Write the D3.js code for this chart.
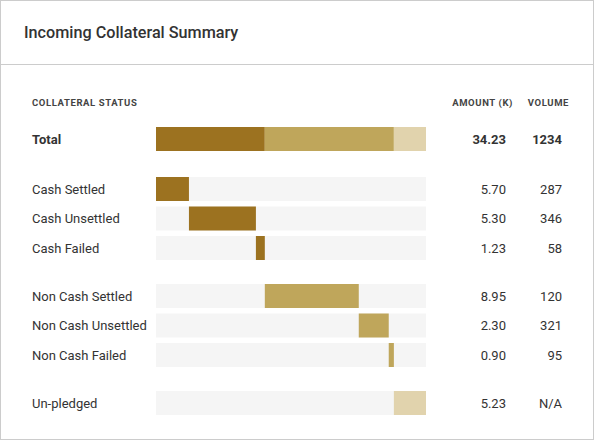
<!DOCTYPE html>
<html><head><meta charset="utf-8">
<script src="https://cdn.jsdelivr.net/npm/d3@7/dist/d3.min.js"></script>
<style>
html,body{margin:0;padding:0;background:#fff;}
svg{display:block;font-family:Roboto,"Noto Sans",sans-serif;}
</style></head>
<body>
<svg id="chart" width="594" height="440"></svg>
<script>
// ---- data ----
const title = "Incoming Collateral Summary";
const columnHeaders = ["COLLATERAL STATUS", "AMOUNT (K)", "VOLUME"];
const categories = ["Cash Settled", "Cash Unsettled", "Cash Failed",
                    "Non Cash Settled", "Non Cash Unsettled", "Non Cash Failed", "Un-pledged"];
const groups = ["cash", "cash", "cash", "noncash", "noncash", "noncash", "unpledged"];
const barShare = [12.2, 24.8, 3.3, 34.8, 11.1, 1.9, 11.9];   // bar widths (% of total)
const amounts = ["5.70", "5.30", "1.23", "8.95", "2.30", "0.90", "5.23"];
const volumes = ["287", "346", "58", "120", "321", "95", "N/A"];
const totalLabel = "Total";
const totalAmount = "34.23";
const totalVolume = "1234";
const groupNames = ["cash", "noncash", "unpledged"];
const groupColors = ["#9c7220", "#bfa65b", "#e1d3ad"];

// ---- layout ----
const svg = d3.select("#chart");
const W = 594, H = 440;
svg.append("rect").attr("x", 0.5).attr("y", 0.5).attr("width", W - 1).attr("height", H - 1)
  .attr("fill", "#fff").attr("stroke", "#cccccc");
svg.append("line").attr("x1", 0).attr("x2", W).attr("y1", 64.5).attr("y2", 64.5).attr("stroke", "#cccccc");
svg.append("text").attr("x", 24).attr("y", 38).text(title)
  .attr("font-size", 16.2).attr("font-weight", 500).attr("fill", "#333");

const color = d3.scaleOrdinal().domain(groupNames).range(groupColors);
const total = d3.sum(barShare);
const x = d3.scaleLinear().domain([0, total]).range([156, 426]);
const barH = 24;
const labelX = 32, amountX = 506, volumeX = 562;

// header row
const hdr = svg.append("g").attr("font-size", 9.5).attr("font-weight", 700).attr("fill", "#444").attr("letter-spacing", 0.6);
hdr.append("text").attr("x", labelX).attr("y", 106).text(columnHeaders[0]);
hdr.append("text").attr("x", 513).attr("y", 106).attr("text-anchor", "end").text(columnHeaders[1]);
hdr.append("text").attr("x", 569).attr("y", 106).attr("text-anchor", "end").text(columnHeaders[2]);

// total row
const totalY = 127;
const groupSums = groupNames.map(g => d3.sum(barShare.filter((v, i) => groups[i] === g)));
let acc = 0;
const totalSegs = groupSums.map((v, i) => { const s = {g: groupNames[i], x0: acc, x1: acc + v}; acc += v; return s; });
svg.append("g").selectAll("rect").data(totalSegs).join("rect")
  .attr("x", d => x(d.x0)).attr("width", d => x(d.x1) - x(d.x0))
  .attr("y", totalY).attr("height", barH).attr("fill", d => color(d.g));
const tg = svg.append("g").attr("font-size", 13).attr("font-weight", 700).attr("fill", "#333");
tg.append("text").attr("x", labelX).attr("y", totalY + barH / 2 + 4.5).text(totalLabel);
tg.append("text").attr("x", amountX).attr("y", totalY + barH / 2 + 4.5).attr("text-anchor", "end").text(totalAmount);
tg.append("text").attr("x", volumeX).attr("y", totalY + barH / 2 + 4.5).attr("text-anchor", "end").text(totalVolume);

// detail rows
const pitch = 29.5, firstGap = 20.5, groupGap = 18.5;
let cum = 0;
const rows = categories.map((c, i) => {
  const gi = groupNames.indexOf(groups[i]);
  const r = {label: c, g: groups[i], x0: cum, x1: cum + barShare[i], amount: amounts[i], volume: volumes[i],
             y: totalY + pitch + firstGap + i * pitch + gi * groupGap};
  cum += barShare[i];
  return r;
});
const rg = svg.append("g").selectAll("g").data(rows).join("g");
rg.append("rect").attr("x", x(0)).attr("width", x(total) - x(0)).attr("y", d => d.y).attr("height", barH).attr("fill", "#f5f5f5");
rg.append("rect").attr("x", d => x(d.x0)).attr("width", d => x(d.x1) - x(d.x0))
  .attr("y", d => d.y).attr("height", barH).attr("fill", d => color(d.g));
rg.append("text").attr("x", labelX).attr("y", d => d.y + barH / 2 + 4.5).attr("font-size", 13).attr("fill", "#333").text(d => d.label);
rg.append("text").attr("x", amountX).attr("y", d => d.y + barH / 2 + 4.5).attr("font-size", 13).attr("fill", "#333").attr("text-anchor", "end").text(d => d.amount);
rg.append("text").attr("x", volumeX).attr("y", d => d.y + barH / 2 + 4.5).attr("font-size", 13).attr("fill", "#333").attr("text-anchor", "end").text(d => d.volume);
</script>
</body></html>
